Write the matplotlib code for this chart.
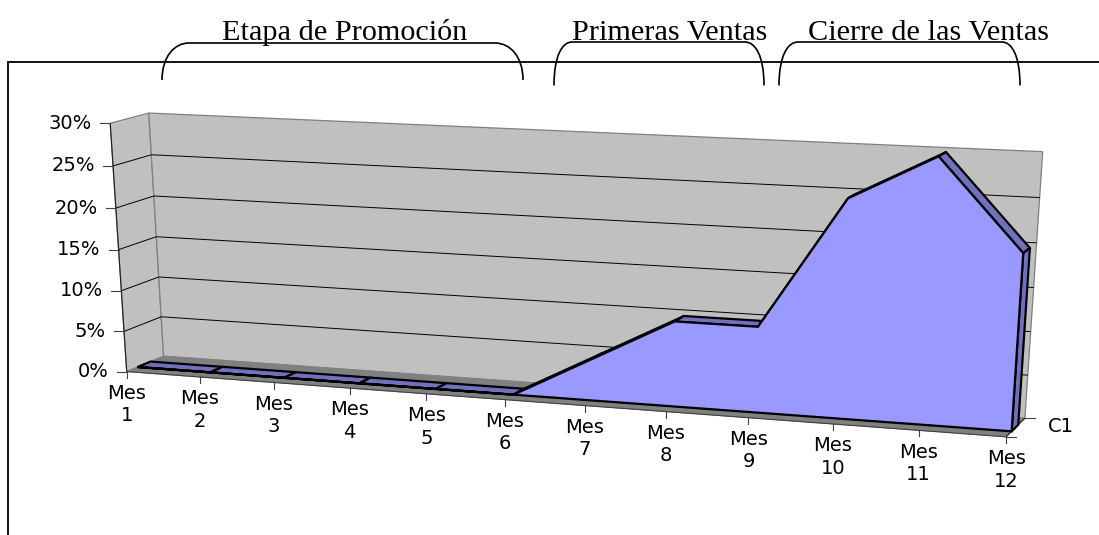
import numpy as np
import matplotlib
matplotlib.use("Agg")
import matplotlib.pyplot as plt
from matplotlib.path import Path
from matplotlib.patches import PathPatch, Polygon

# ---- data ----
months = ["Mes\n1", "Mes\n2", "Mes\n3", "Mes\n4", "Mes\n5", "Mes\n6",
          "Mes\n7", "Mes\n8", "Mes\n9", "Mes\n10", "Mes\n11", "Mes\n12"]
values = [0, 0, 0, 0, 0, 0, 5, 10, 10, 25, 30, 20]
y_ticks = [0, 5, 10, 15, 20, 25, 30]
y_labels = ["0%", "5%", "10%", "15%", "20%", "25%", "30%"]
series_name = "C1"
stage_names = ["Etapa de Promoción", "Primeras Ventas", "Cierre de las Ventas"]

# ---- style ----
WALL = "#C0C0C0"; FLOOR = "#808080"; FRONT = "#9999FF"; TOP = "#7070BF"
SANS = "DejaVu Sans"; SERIF = "Liberation Serif"
W, H = 1099, 535

fig = plt.figure(figsize=(W / 100, H / 100), dpi=100)
ax = fig.add_axes([0, 0, 1, 1])
ax.set_xlim(0, W); ax.set_ylim(H, 0); ax.axis("off")

# ---- projective camera fitted to the box corners seen in the chart ----
n = len(values) - 1
vmax = y_ticks[-1]
corners = [((0, 0, 0), (127, 371.7)), ((0, vmax, 0), (110, 123)),
           ((0, 0, 1), (163.3, 356)), ((0, vmax, 1), (149, 113.3)),
           ((n, 0, 1), (1025, 418)), ((n, vmax, 1), (1042.7, 151.7)),
           ((n, 0, 0), (1006, 437))]
A, b = [], []
for (x, y, z), (u, v) in corners:
    A.append([x, y, z, 1, 0, 0, 0, 0, -u * x, -u * y, -u * z]); b.append(u)
    A.append([0, 0, 0, 0, x, y, z, 1, -v * x, -v * y, -v * z]); b.append(v)
p = np.linalg.lstsq(np.array(A, float), np.array(b, float), rcond=None)[0]
P = np.append(p, 1).reshape(3, 4)


def proj(x, y, z):
    r = P @ np.array([x, y, z, 1.0])
    return r[0] / r[2], r[1] / r[2]


def poly(points, **kw):
    ax.add_patch(Polygon([proj(*q) for q in points], closed=True, **kw))


def seg(a, b, **kw):
    pa, pb = proj(*a), proj(*b)
    ax.plot([pa[0], pb[0]], [pa[1], pb[1]], solid_capstyle="butt", **kw)


# ---- walls and floor ----
edge = dict(edgecolor=FLOOR, linewidth=0.9, zorder=1)
poly([(0, 0, 0), (0, vmax, 0), (0, vmax, 1), (0, 0, 1)], facecolor=WALL, **edge)
poly([(0, 0, 1), (0, vmax, 1), (n, vmax, 1), (n, 0, 1)], facecolor=WALL, **edge)
poly([(0, 0, 0), (0, 0, 1), (n, 0, 1), (n, 0, 0)], facecolor=FLOOR, edgecolor=FLOOR, linewidth=0.6, zorder=1)

# gridlines
for t in y_ticks[1:-1]:
    seg((0, t, 0), (0, t, 1), color="black", lw=0.7, zorder=2)
    seg((0, t, 1), (n, t, 1), color="black", lw=0.7, zorder=2)

# ---- the area ----
d0, d1 = 0.29, 0.64
blk = dict(edgecolor="black", linewidth=1.6, joinstyle="miter", zorder=3)
for i in range(n):
    poly([(i, values[i], d0), (i + 1, values[i + 1], d0),
          (i + 1, values[i + 1], d1), (i, values[i], d1)], facecolor=TOP, **blk)
poly([(n, 0, d0), (n, values[n], d0), (n, values[n], d1), (n, 0, d1)], facecolor=TOP, **blk)
front = [(0, 0, d0)] + [(i, values[i], d0) for i in range(n + 1)] + [(n, 0, d0)]
poly(front, facecolor=FRONT, **blk)

# ---- axes, ticks, labels ----
seg((0, 0, 0), (0, vmax, 0), color="#202020", lw=0.8, zorder=2)
seg((0, 0, 0), (n, 0, 0), color="#404040", lw=0.8, zorder=2)
seg((n, 0, 0), (n, 0, 1), color="#202020", lw=0.8, zorder=2)
for t, lab in zip(y_ticks, y_labels):
    x, y = proj(0, t, 0)
    ax.plot([x - 10, x], [y, y], color="#404040", lw=0.8)
    ax.text(x - 18, y, lab, ha="right", va="center", family=SANS, fontsize=14, color="black")
for i, lab in enumerate(months):
    x, y = proj(i, 0, 0)
    ax.plot([x, x], [y, y + 6], color="#404040", lw=0.8)
    ax.text(x, y + 33, lab, ha="center", va="center", family=SANS, fontsize=14,
            linespacing=1.23, color="black")
for z in (0, 1):
    x, y = proj(n, 0, z)
    ax.plot([x, x + 10], [y, y], color="#404040", lw=0.8)
x, y = proj(n, 0, 1)
ax.text(x + 23, y + 8, series_name, ha="left", va="center", family=SANS, fontsize=14, color="black")

# ---- frame of the drawing ----
ax.plot([1099, 8, 8], [62, 62, 535], color="black", lw=1.3, solid_joinstyle="miter")

# ---- stage captions with their braces ----
caption_x = [344.5, 669.5, 929]
caption_base = 39.5
braces = [(162, 189, 495, 523, 43, 80), (554, 572, 745, 764, 42, 85.5), (779, 798, 1002, 1020, 42, 85.5)]
for name, cx, (x0, x1, x2, x3, top, bot) in zip(stage_names, caption_x, braces):
    ax.text(cx, caption_base, name, ha="center", va="baseline", family=SERIF, fontsize=21.8, color="black")
    verts = [(x0, bot), (x0, top + 14), (x0 + (x1 - x0) * 0.45, top), (x1, top), (x2, top),
             (x3 - (x3 - x2) * 0.45, top), (x3, top + 14), (x3, bot)]
    codes = [Path.MOVETO, Path.CURVE4, Path.CURVE4, Path.CURVE4, Path.LINETO, Path.CURVE4, Path.CURVE4, Path.CURVE4]
    ax.add_patch(PathPatch(Path(verts, codes), facecolor="none", edgecolor="black", lw=1.2))

fig.savefig("out.png", dpi=100)
